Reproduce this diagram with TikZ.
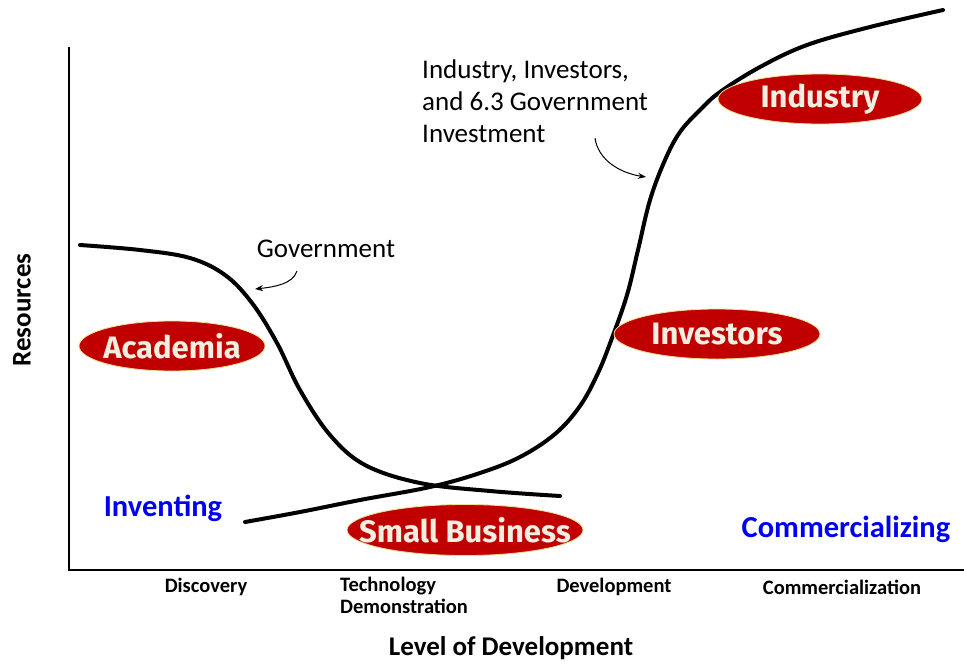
\documentclass[tikz,border=0pt]{standalone}
\usepackage{fontspec}
\setmainfont{Carlito}
\newfontfamily\blobfont{Fira Sans}
\usetikzlibrary{arrows.meta}
\definecolor{blobred}{RGB}{192,0,0}
\definecolor{blobtext}{RGB}{242,238,224}
\definecolor{blobedge}{RGB}{240,224,150}
\definecolor{stageblue}{RGB}{0,0,240}
\begin{document}
\begin{tikzpicture}[x=1pt,y=-1pt,
  blobfill/.style={fill=blobred,draw=blobedge,line width=0.8pt},
  blob/.style={inner sep=0pt,text=blobtext,font=\blobfont\bfseries\fontsize{31}{34}\selectfont},
  note/.style={font=\fontsize{27}{32}\selectfont,align=left},
  tick/.style={font=\bfseries\fontsize{20.5}{22}\selectfont,align=left},
  stage/.style={font=\bfseries\fontsize{30.5}{34}\selectfont,text=stageblue},
  curve/.style={line width=4pt,line cap=round},
  pointer/.style={line width=1pt,-{Stealth[length=8pt,width=6pt]}}]
\useasboundingbox (0,0) rectangle (964,664);
% axes
\coordinate (ytop) at (69,47);
\coordinate (orig) at (69,570);
\coordinate (xend) at (964,570);
\draw[line width=2pt] (ytop) -- (orig) -- (xend);
% curves
\draw[curve] plot[smooth,tension=0.6] coordinates {(80,245) (140,250) (190,258) (225,275) (252,303) (277,343) (300,390) (330,435) (365,465) (420,483) (490,491) (560,496)};
\draw[curve] plot[smooth,tension=0.6] coordinates {(245,522) (300,512) (360,500) (430,487) (480,473) (520,457) (555,434) (580,406) (598,373) (612,338) (627,295) (638,250) (650,200) (665,160) (680,132) (700,110) (720,92) (760,67) (807,45) (870,27) (943,10)};
% blobs
\coordinate (cacad) at (172,346);
\coordinate (csmall) at (465,530);
\coordinate (cinv) at (717,334);
\coordinate (cind) at (820,99);
\path[blobfill] (cacad) ellipse [x radius=93, y radius=25];
\path[blobfill] (csmall) ellipse [x radius=118, y radius=25.5];
\path[blobfill] (cinv) ellipse [x radius=103, y radius=25];
\path[blobfill] (cind) ellipse [x radius=102, y radius=25];
\node[blob] (acad) at (cacad) {Academia};
\node[blob] (small) at (csmall) {Small Business};
\node[blob] (inv) at (cinv) {Investors};
\node[blob] (ind) at (cind) {Industry};
% notes
\node[note,anchor=center] (gov) at (326,249) {Government};
\coordinate (govtip) at (255,289);
\draw[pointer] (297,271) .. controls (293,284) and (274,287) .. (govtip);
\node[note,anchor=north west,inner sep=0pt] (mix) at (422,60) {Industry, Investors,\\and 6.3 Government\\Investment};
\coordinate (mixtip) at (646,177);
\draw[pointer] (595,138) .. controls (598,160) and (620,173) .. (mixtip);
% stages
\node[stage] (inventing) at (163,508) {Inventing};
\node[stage] (comm) at (846,529) {Commercializing};
% ticks
\node[tick] (disc) at (206,587) {Discovery};
\node[tick,anchor=north west,inner sep=0pt] (tech) at (340,577) {Technology\\Demonstration};
\node[tick] (dev) at (614,587) {Development};
\node[tick] (comz) at (842,587) {Commercialization};
\node[font=\bfseries\fontsize{27}{30}\selectfont] (xlab) at (511,648) {Level of Development};
\node[font=\bfseries\fontsize{27}{30}\selectfont,rotate=90] (ylab) at (22,310) {Resources};
\end{tikzpicture}
\end{document}
